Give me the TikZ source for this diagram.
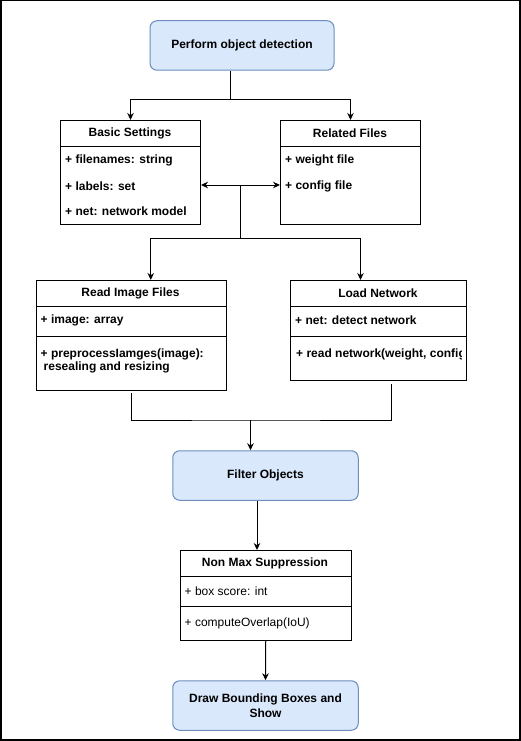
\documentclass[tikz,border=0pt]{standalone}
\usepackage{fontspec}
\setmainfont{Liberation Sans}
\usetikzlibrary{arrows.meta,positioning}

\definecolor{flowfill}{HTML}{DAE8FC}
\definecolor{flowline}{HTML}{6C8EBF}

\begin{document}
\begin{tikzpicture}[x=1pt, y=-1pt, >={Stealth[length=7pt,width=6.5pt]},
  every node/.style={font=\fontsize{12}{14}\selectfont},
  flow/.style={draw=flowline, fill=flowfill, rounded corners=7pt, line width=1pt,
    font=\fontsize{12}{15.5}\selectfont\bfseries, align=center},
  umlbox/.style={draw, line width=1pt, anchor=north west, inner sep=0pt},
  title/.style={font=\fontsize{12}{14}\selectfont\bfseries},
  row/.style={anchor=west, inner sep=0pt, font=\fontsize{12}{13.5}\selectfont\bfseries, align=left},
  plainrow/.style={anchor=west, inner sep=0pt},
  link/.style={->, line width=1pt}]

\useasboundingbox (0,0) rectangle (521,741);
% Frame
\draw[line width=1.5pt] (0.75,0.75) rectangle (520,740);

% Start
\node[flow, minimum width=184pt, minimum height=49.5pt] (detect) at (242,45.5) {Perform object detection};

% Basic Settings
\node[umlbox, minimum width=140pt, minimum height=104pt] (basic) at (60,120) {};
\node[title] (basictitle) at (130,133) {Basic Settings};
\draw[line width=1pt] (60,146) -- (200,146);
\node[row] (basicfiles) at (65,160) {+ filenames: string};
\node[row] (basiclabels) at (65,186) {+ labels: set};
\node[row] (basicnet) at (65,211) {+ net: network model};

% Related Files
\node[umlbox, minimum width=140pt, minimum height=104pt] (files) at (280,120) {};
\node[title] (filestitle) at (350,133) {Related Files};
\draw[line width=1pt] (280,146) -- (420,146);
\node[row] (fileweight) at (285,160) {+ weight file};
\node[row] (fileconfig) at (285,186) {+ config file};

% Read Image Files
\node[umlbox, minimum width=189.5pt, minimum height=110pt] (read) at (36,280) {};
\node[title] (readtitle) at (130.5,293) {Read Image Files};
\draw[line width=1pt] (36,306.5) -- (225.5,306.5);
\draw[line width=1pt] (36,336.5) -- (225.5,336.5);
\node[row] (readimage) at (40.5,320) {+ image: array};
\node[row] (readprep) at (40.5,361) {+ preprocessIamges(image):\\\hspace{3pt}resealing and resizing};

% Load Network
\node[umlbox, minimum width=176pt, minimum height=100pt] (load) at (290,280) {};
\node[title] (loadtitle) at (378,293) {Load Network};
\draw[line width=1pt] (290,306.5) -- (466,306.5);
\draw[line width=1pt] (290,336.5) -- (466,336.5);
\node[row] (loadnet) at (295,320) {+ net: detect network};
\begin{scope}
  \clip (290,337) rectangle (461.5,380);
  \node[row] (loadread) at (296,354) {+ read network(weight, config)};
\end{scope}

% Filter
\node[flow, minimum width=185.5pt, minimum height=49.5pt] (filter) at (265.5,475.5) {Filter Objects};

% Non Max Suppression
\node[umlbox, minimum width=170.5pt, minimum height=90pt] (nms) at (180,550) {};
\node[title] (nmstitle) at (265,563.5) {Non Max Suppression};
\draw[line width=1pt] (180,576) -- (350.5,576);
\draw[line width=1pt] (180,606.5) -- (350.5,606.5);
\node[plainrow] (nmsscore) at (184.5,591) {+ box score: int};
\node[plainrow] (nmsiou) at (184.5,623.5) {+ computeOverlap(IoU)};

% End
\node[flow, minimum width=185.5pt, minimum height=49.5pt] (show) at (265.5,705.5) {Draw Bounding Boxes and\\Show};

% Connectors
\coordinate (split) at (230.5,100);
\draw[line width=1pt] (detect.south -| split) -- (split);
\draw[link] (split) -| (basic.north);
\draw[link] (split) -| (files.north);

\coordinate (hub) at (240,185);
\coordinate (fork) at (240,238);
\draw[link, <->] (basic.east |- hub) -- (files.west |- hub);
\draw[line width=1pt] (hub) -- (fork);
\draw[link] (fork) -| ([xshift=19.5pt]read.north);
\draw[link] (fork) -| ([xshift=-18pt]load.north);

\coordinate (merge) at (250.5,420);
\draw[line width=1pt] ([yshift=-2pt]read.south) |- (merge) -| ([xshift=12.5pt,yshift=-3pt]load.south);
\draw[link] (merge) -- (merge |- filter.north);

\draw[link] ([xshift=-8.5pt]filter.south) -- ([xshift=-8.5pt]filter.south |- nms.north);
\draw[link] (nms.south) -- (show.north);
\end{tikzpicture}
\end{document}
